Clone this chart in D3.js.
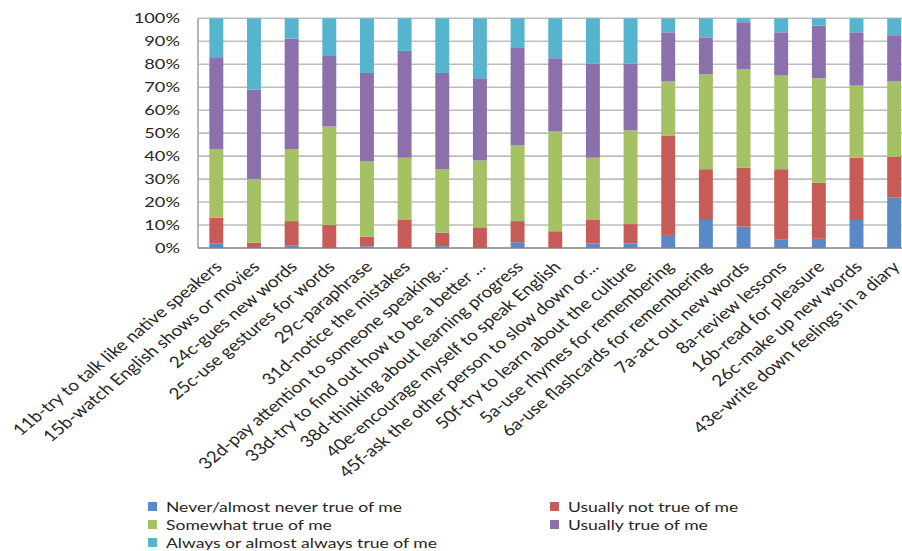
<!DOCTYPE html>
<html><head><meta charset="utf-8">
<script src="https://cdn.jsdelivr.net/npm/d3@7"></script>
<style>body{margin:0;background:#fff}svg{display:block}text{font-family:Lato,"Open Sans",sans-serif;fill:#262626}</style>
</head><body><svg id="c" width="902" height="551"></svg>
<script>
const categories = ["11b-try to talk like native speakers","15b-watch English shows or movies","24c-gues new words","25c-use gestures for words","29c-paraphrase","31d-notice the mistakes","32d-pay attention to someone speaking...","33d-try to find out how to be a better ...","38d-thinking about learning progress","40e-encourage myself to speak English","45f-ask the other person to slow down or...","50f-try to learn about the culture","5a-use rhymes for remembering","6a-use flashcards for remembering","7a-act out new words","8a-review lessons","16b-read for pleasure","26c-make up new words","43e-write down feelings in a diary"];
const seriesNames = ["Never/almost never true of me","Usually not true of me","Somewhat true of me","Usually true of me","Always or almost always true of me"];
const never    = [2,0,1,0,0.7,0,0.8,0,2.5,0,1.9,1.9,5.7,12.2,9.3,3.6,4,12.2,21.9];
const notTrue  = [11.2,2.3,10.7,10,4.2,12.2,5.9,9,9.2,7.3,10.3,8.5,43.1,22.1,25.6,30.7,24.4,27.1,17.8];
const somewhat = [29.8,27.8,31.3,42.9,32.8,27.1,27.6,29.1,33.1,43.4,27.1,40.8,23.7,41.4,42.9,40.8,45.5,31.4,32.8];
const usually  = [39.7,38.9,48.2,30.7,38.5,46.5,41.9,35.8,42.6,31.9,41,29.1,21.4,16,20.5,18.8,22.9,23.2,19.8];
const always   = [17.3,31,8.8,16.4,23.8,14.2,23.8,26.1,12.6,17.4,19.7,19.7,6.1,8.3,1.7,6.1,3.2,6.1,7.7];
const yTicks = [0,0.1,0.2,0.3,0.4,0.5,0.6,0.7,0.8,0.9,1];
const colors = ["#5A8AC6","#C65B57","#A4C163","#8B70AC","#57B4CE"];

const svg = d3.select("#c");
const keys = ["never","notTrue","somewhat","usually","always"];
const table = categories.map((c,i)=>({cat:c,never:never[i],notTrue:notTrue[i],somewhat:somewhat[i],usually:usually[i],always:always[i]}));
const stack = d3.stack().keys(keys).offset(d3.stackOffsetExpand);
const layers = stack(table);

const x = d3.scaleBand().domain(categories).range([197.5, 913]).paddingInner(0.63).paddingOuter(0.315);
const y = d3.scaleLinear().domain([0,1]).range([248, 18.3]);

// gridlines
svg.append("g").selectAll("line").data(yTicks).join("line")
  .attr("x1",198).attr("x2",902).attr("y1",d=>y(d)).attr("y2",d=>y(d))
  .attr("stroke","#BDBDBD").attr("stroke-width",1.6);
svg.append("line").attr("x1",198).attr("x2",198).attr("y1",y(1)).attr("y2",y(0)).attr("stroke","#A6A6A6").attr("stroke-width",1.6);
svg.append("line").attr("x1",198).attr("x2",902).attr("y1",y(0)).attr("y2",y(0)).attr("stroke","#A0A0A0").attr("stroke-width",1.8);

// y labels
const sx = 1.3;
svg.append("g").selectAll("text").data(yTicks).join("text")
  .attr("transform",d=>`translate(180,${y(d)}) scale(${sx},1)`)
  .attr("text-anchor","end").attr("dy","0.35em").attr("font-size",14)
  .text(d=>Math.round(d*100)+"%");

// bars
svg.append("g").selectAll("g").data(layers).join("g")
  .attr("fill",(d,i)=>colors[i])
  .selectAll("rect").data(d=>d).join("rect")
  .attr("x",d=>x(d.data.cat)).attr("width",x.bandwidth())
  .attr("y",d=>y(d[1])).attr("height",d=>y(d[0])-y(d[1]));

// x labels
svg.append("g").selectAll("text").data(categories).join("text")
  .attr("transform",d=>`translate(${x(d)+x.bandwidth()/2+2},264) scale(1.2,1) rotate(-45)`)
  .attr("text-anchor","end").attr("dy","0.35em").attr("font-size",15.8)
  .text(d=>d);

// legend
const legPos = [[148,507],[550,507],[148,525],[550,525],[148,543]];
const lg = svg.append("g").selectAll("g").data(seriesNames).join("g")
  .attr("transform",(d,i)=>`translate(${legPos[i][0]},${legPos[i][1]})`);
lg.append("rect").attr("x",0).attr("y",-5).attr("width",9).attr("height",9).attr("fill",(d,i)=>colors[i]);
lg.append("text").attr("transform",`translate(18,0) scale(${sx},1)`).attr("dy","0.35em").attr("font-size",13.5).text(d=>d);
</script></body></html>
